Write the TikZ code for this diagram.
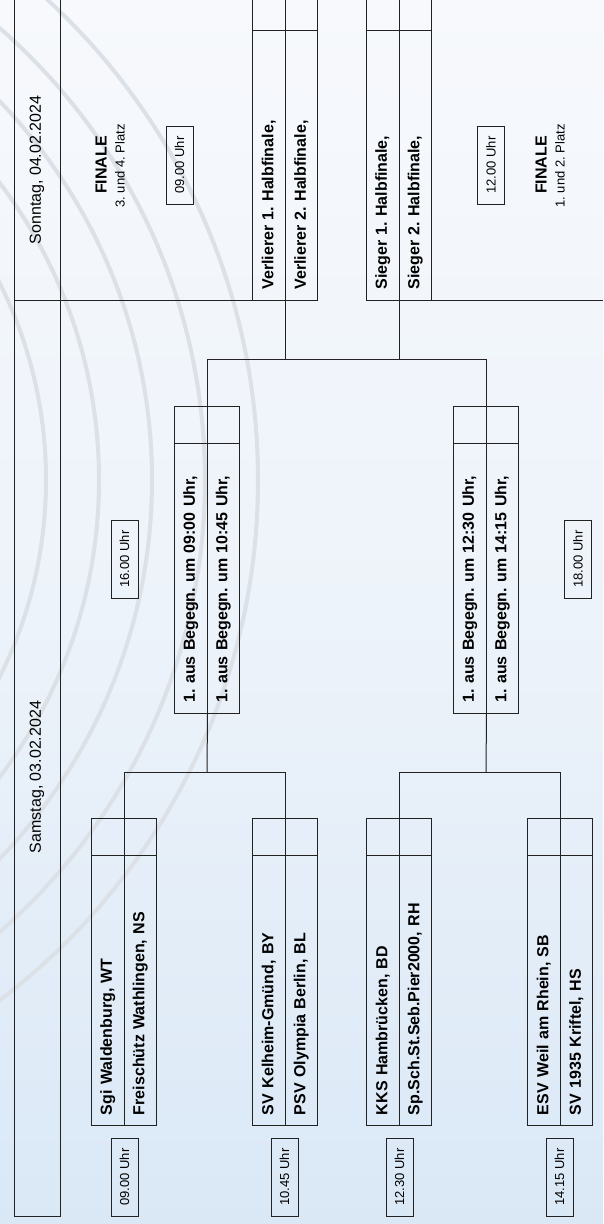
\documentclass[tikz,border=0pt]{standalone}
\usepackage{fontspec}
\setmainfont{Liberation Sans}
\frenchspacing
\definecolor{bgtop}{HTML}{F7F9FC}
\definecolor{bgmid}{HTML}{EDF3FA}
\definecolor{bgbot}{HTML}{DAE8F6}
\definecolor{ringcol}{HTML}{DCE1E7}
\definecolor{linecol}{HTML}{222222}
\begin{document}
\begin{tikzpicture}[x=1pt,y=-1pt,line width=1pt,
  cell/.style={draw=linecol, rotate=90, minimum width=270pt, minimum height=32.5pt,
    text width=249pt, inner xsep=10.5pt, inner ysep=0pt, align=left,
    font=\fontsize{16}{19}\selectfont\bfseries},
  topcell/.style={draw=linecol, minimum width=32.5pt, minimum height=37pt, inner sep=0pt},
  tbox/.style={draw=linecol, rotate=90, minimum width=78pt, minimum height=27pt, inner sep=0pt,
    font=\fontsize{13}{15}\selectfont},
  datetext/.style={rotate=90, inner sep=0pt, font=\fontsize{16}{19}\selectfont},
  fintext/.style={rotate=90, inner sep=0pt, font=\fontsize{16}{19}\selectfont\bfseries},
  subtext/.style={rotate=90, inner sep=0pt, font=\fontsize{13}{15}\selectfont},
  ring/.style={draw=ringcol, line width=4pt},
  conn/.style={draw=linecol, line width=1pt}]
\clip (0,0) rectangle (603,1224);
% background
\shade[top color=bgtop, bottom color=bgbot, middle color=bgmid] (0,0) rectangle (603,1224);
% decorative rings
\foreach \r in {653,600,547,494,441}{\draw[ring] (-395,480) circle (\r);}
% frame
\draw[conn] (14,0) -- (14,1216) -- (60,1216) -- (60,0);
\draw[conn] (14,300) -- (253,300);
\draw[conn] (432,300) -- (603,300);
% date texts
\node[datetext] (so) at (37,170) {Sonntag, 04.02.2024};
\node[datetext] (sa) at (37,777) {Samstag, 03.02.2024};
% final labels
\node[fintext] (f34) at (101,165) {FINALE};
\node[subtext] (f34s) at (120,166) {3. und 4. Platz};
\node[fintext] (f12) at (541,165) {FINALE};
\node[subtext] (f12s) at (560,166) {1. und 2. Platz};
% time boxes
\node[tbox] (t0900f) at (179.5,165) {09.00 Uhr};
\node[tbox] (t1200f) at (491,165) {12.00 Uhr};
\node[tbox] (t1600) at (124.5,559) {16.00 Uhr};
\node[tbox] (t1800) at (578,559) {18.00 Uhr};
\node[tbox] (t0900) at (124.5,1177) {09.00 Uhr};
\node[tbox] (t1045) at (284.5,1177) {10.45 Uhr};
\node[tbox] (t1230) at (399.5,1177) {12.30 Uhr};
\node[tbox] (t1415) at (559.5,1177) {14.15 Uhr};
% first round
\node[topcell] (A1t) at (107.75,836.5) {};
\node[topcell] (A2t) at (140.25,836.5) {};
\node[cell] (A1) at (107.75,990.5) {Sgi Waldenburg, WT};
\node[cell] (A2) at (140.25,990.5) {Freischütz Wathlingen, NS};
\node[topcell] (B1t) at (268.75,836.5) {};
\node[topcell] (B2t) at (301.25,836.5) {};
\node[cell] (B1) at (268.75,990.5) {SV Kelheim-Gmünd, BY};
\node[cell] (B2) at (301.25,990.5) {PSV Olympia Berlin, BL};
\node[topcell] (C1t) at (382.75,836.5) {};
\node[topcell] (C2t) at (415.25,836.5) {};
\node[cell] (C1) at (382.75,990.5) {KKS Hambrücken, BD};
\node[cell] (C2) at (415.25,990.5) {Sp.Sch.St.Seb.Pier2000, RH};
\node[topcell] (D1t) at (543.75,836.5) {};
\node[topcell] (D2t) at (576.25,836.5) {};
\node[cell] (D1) at (543.75,990.5) {ESV Weil am Rhein, SB};
\node[cell] (D2) at (576.25,990.5) {SV 1935 Kriftel, HS};
% semifinals
\node[topcell] (S1t) at (190.75,424.5) {};
\node[topcell] (S2t) at (223.25,424.5) {};
\node[cell] (S1) at (190.75,578) {1. aus Begegn. um 09:00 Uhr,};
\node[cell] (S2) at (223.25,578) {1. aus Begegn. um 10:45 Uhr,};
\node[topcell] (R1t) at (469.75,424.5) {};
\node[topcell] (R2t) at (502.25,424.5) {};
\node[cell] (R1) at (469.75,578) {1. aus Begegn. um 12:30 Uhr,};
\node[cell] (R2) at (502.25,578) {1. aus Begegn. um 14:15 Uhr,};
% finals
\node[topcell] (V1t) at (268.75,11.5) {};
\node[topcell] (V2t) at (301.25,11.5) {};
\node[cell] (V1) at (268.75,165) {Verlierer 1. Halbfinale,};
\node[cell] (V2) at (301.25,165) {Verlierer 2. Halbfinale,};
\node[topcell] (G1t) at (382.75,11.5) {};
\node[topcell] (G2t) at (415.25,11.5) {};
\node[cell] (G1) at (382.75,165) {Sieger 1. Halbfinale,};
\node[cell] (G2) at (415.25,165) {Sieger 2. Halbfinale,};
% junctions
\coordinate (j1) at (207,772);
\coordinate (j2) at (486,772);
\coordinate (k) at (300,359);
% first round brackets
\draw[conn] (A1t.north east) -- (A1t.north east |- j1) -- (B1t.north east |- j1) -- (B1t.north east);
\draw[conn] (j1) -- (S1.south west);
\draw[conn] (C1t.north east) -- (C1t.north east |- j2) -- (D1t.north east |- j2) -- (D1t.north east);
\draw[conn] (j2) -- (R1.south west);
% semifinal bracket
\draw[conn] (S1t.north east) -- (S1t.north east |- k) -- (R1t.north east |- k) -- (R1t.north east);
\draw[conn] (V1.south west) -- (V1.south west |- k);
\draw[conn] (G1.south west) -- (G1.south west |- k);
\end{tikzpicture}
\end{document}
